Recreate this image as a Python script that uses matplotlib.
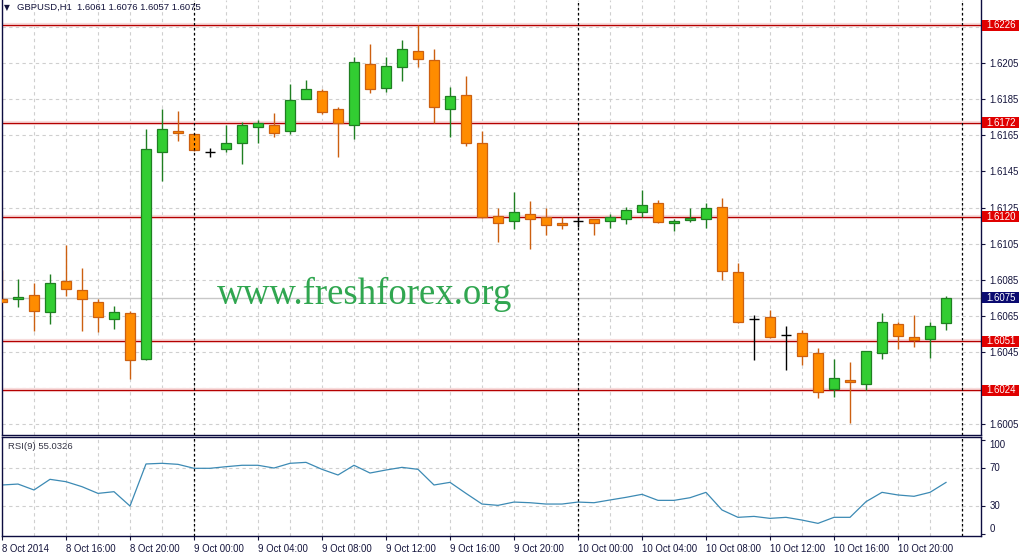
import matplotlib
matplotlib.use("Agg")
import matplotlib.pyplot as plt
import numpy as np
from matplotlib.patches import Rectangle

# GBPUSD H1, 8 Oct 12:00 .. 10 Oct 23:00 (one candle per hour)
opens = [1.60744, 1.60742, 1.60766, 1.60670, 1.60843, 1.60793, 1.60725, 1.60631, 1.60665, 1.60410,
         1.61559, 1.61672, 1.61655, 1.61556, 1.61572, 1.61609, 1.61694, 1.61705, 1.61672, 1.61852,
         1.61895, 1.61793, 1.61705, 1.62043, 1.61913, 1.62026, 1.62114, 1.62065, 1.61793, 1.61871,
         1.61605, 1.61203, 1.61174, 1.61214, 1.61196, 1.61164, 1.61174, 1.61185, 1.61174, 1.61185,
         1.61223, 1.61273, 1.61163, 1.61183, 1.61185, 1.61251, 1.60893, 1.60631, 1.60642, 1.60543,
         1.60554, 1.60443, 1.60244, 1.60295, 1.60272, 1.60443, 1.60604, 1.60532, 1.60521, 1.60610]
highs = [1.60904, 1.60854, 1.60831, 1.60880, 1.61041, 1.60915, 1.60744, 1.60705, 1.60679, 1.61683,
         1.61797, 1.61784, 1.61660, 1.61578, 1.61707, 1.61723, 1.61734, 1.61771, 1.61933, 1.61956,
         1.61904, 1.61805, 1.62085, 1.62157, 1.62081, 1.62177, 1.62260, 1.62126, 1.61915, 1.61978,
         1.61673, 1.61246, 1.61336, 1.61286, 1.61246, 1.61199, 1.61199, 1.61188, 1.61212, 1.61251,
         1.61347, 1.61292, 1.61185, 1.61247, 1.61273, 1.61301, 1.60941, 1.60655, 1.60683, 1.60594,
         1.60572, 1.60471, 1.60410, 1.60395, 1.60456, 1.60665, 1.60618, 1.60655, 1.60615, 1.60760]
lows = [1.60725, 1.60701, 1.60568, 1.60604, 1.60762, 1.60568, 1.60563, 1.60578, 1.60301, 1.60405,
        1.61398, 1.61620, 1.61565, 1.61531, 1.61559, 1.61492, 1.61609, 1.61642, 1.61655, 1.61848,
        1.61766, 1.61531, 1.61631, 1.61882, 1.61891, 1.61952, 1.62029, 1.61716, 1.61642, 1.61592,
        1.61193, 1.61061, 1.61131, 1.61022, 1.61098, 1.61133, 1.61144, 1.61098, 1.61138, 1.61160,
        1.61199, 1.61163, 1.61122, 1.61172, 1.61138, 1.60849, 1.60613, 1.60406, 1.60530, 1.60351,
        1.60378, 1.60197, 1.60200, 1.60060, 1.60240, 1.60410, 1.60467, 1.60480, 1.60419, 1.60570]
closes = [1.60729, 1.60755, 1.60679, 1.60831, 1.60801, 1.60742, 1.60642, 1.60670, 1.60404, 1.61572,
          1.61683, 1.61661, 1.61570, 1.61556, 1.61605, 1.61705, 1.61716, 1.61661, 1.61845, 1.61904,
          1.61780, 1.61716, 1.62054, 1.61904, 1.62031, 1.62126, 1.62074, 1.61805, 1.61865, 1.61609,
          1.61196, 1.61163, 1.61223, 1.61185, 1.61152, 1.61152, 1.61174, 1.61163, 1.61196, 1.61235,
          1.61264, 1.61172, 1.61175, 1.61194, 1.61246, 1.60900, 1.60618, 1.60631, 1.60532, 1.60543,
          1.60430, 1.60231, 1.60305, 1.60283, 1.60454, 1.60615, 1.60541, 1.60515, 1.60594, 1.60750]
rsi = [52.3, 53.3, 47.0, 58.3, 55.8, 50.5, 43.4, 45.2, 30.0, 74.6,
       75.3, 74.2, 70.0, 70.0, 71.7, 73.2, 73.2, 70.3, 75.3, 76.3,
       68.9, 62.9, 73.2, 65.0, 68.2, 71.0, 68.9, 52.3, 55.1, 43.4,
       32.1, 30.7, 34.2, 33.5, 32.1, 32.1, 34.2, 33.5, 36.4, 39.2,
       42.4, 36.0, 36.0, 38.8, 44.5, 25.8, 18.0, 19.0, 16.9, 18.0,
       15.1, 11.6, 18.0, 18.0, 34.6, 44.5, 41.7, 40.3, 44.5, 55.03]

levels = [1.6226, 1.6172, 1.6120, 1.6051, 1.6024]
bid = 1.6075
price_ticks = [1.6005, 1.6025, 1.6045, 1.6065, 1.6085, 1.6105, 1.6125,
               1.6145, 1.6165, 1.6185, 1.6205, 1.6225]
# labels hidden under the level boxes (1.6025, 1.6225) are left blank
price_labels = ["1.6005", "", "1.6045", "1.6065", "1.6085", "1.6105", "1.6125",
                "1.6145", "1.6165", "1.6185", "1.6205", ""]
time_labels = ["8 Oct 2014", "8 Oct 16:00", "8 Oct 20:00", "9 Oct 00:00", "9 Oct 04:00",
               "9 Oct 08:00", "9 Oct 12:00", "9 Oct 16:00", "9 Oct 20:00", "10 Oct 00:00",
               "10 Oct 04:00", "10 Oct 08:00", "10 Oct 12:00", "10 Oct 16:00", "10 Oct 20:00"]
day_breaks = [12, 36, 60]   # candle index of 9 Oct, 10 Oct, 11 Oct 00:00

W, H = 1023, 557
NAVY = "#14143c"
GRID = "#cfcfcf"
plt.rcParams["font.family"] = ["Liberation Sans", "DejaVu Sans"]

fig = plt.figure(figsize=(W / 100, H / 100), dpi=100)


def rect(x0, y0, x1, y1):
    return [x0 / W, 1 - y1 / H, (x1 - x0) / W, (y1 - y0) / H]


ax = fig.add_axes(rect(1.5, 0, 981, 435))
ax2 = fig.add_axes(rect(1.5, 437, 981, 536))
xs = np.arange(len(opens))
xlim = ((1.5 - 2) / 16, (981 - 2) / 16)

# ── price pane ──
ax.set_xlim(*xlim)
ax.set_ylim(1.59991, 1.623984)
for t in price_ticks:
    ax.axhline(t, color=GRID, lw=0.8, ls=(0, (3, 3)), zorder=0)
for i in range(0, 62, 2):
    ax.axvline(i, color=GRID, lw=0.8, ls=(0, (3, 3)), zorder=0)
ax.axhline(bid, color="#c8c8c8", lw=1, zorder=0.5)
for lv in levels:
    ax.axhline(lv, color="#f8dcdc", lw=3, zorder=0.6)
    ax.axhline(lv, color="#b40000", lw=0.9, zorder=0.7)

bw = 0.62
for i, o, h, l, c in zip(xs, opens, highs, lows, closes):
    if c > o:
        fill, edge = "#32cd32", "#1f7f22"
    elif c < o:
        fill, edge = "#ff8c00", "#cc6010"
    else:
        fill, edge = None, "black"
    ax.vlines(i, l, h, color=edge, lw=1, zorder=2)
    if fill is None:
        ax.hlines(o, i - bw / 2, i + bw / 2, color=edge, lw=1, zorder=3)
    else:
        ax.bar(i, abs(c - o), bw, bottom=min(o, c), color=fill, edgecolor=edge,
               linewidth=0.9, zorder=3)

ax.yaxis.tick_right()
ax.set_yticks(price_ticks, price_labels)
ax.tick_params(axis="y", length=3, width=0.8, pad=3, labelsize=6.9,
               colors=NAVY, direction="out")
ax.set_xticks([])

yt = ax.get_yaxis_transform()
box_w = 36.6 / 979.5
box_x = 1.3 / 979.5 + 1
box_h = 11 / 18070
for lv, col in [(l, "#e00000") for l in levels] + [(bid, "#0a0a70")]:
    ax.add_patch(Rectangle((box_x, lv - box_h / 2), box_w, box_h, transform=yt,
                           facecolor=col, edgecolor="none", clip_on=False, zorder=5))
    ax.text(box_x + 4.5 / 979.5, lv, f"{lv:.4f}", transform=yt, ha="left", va="center",
            color="white", fontsize=6.9, zorder=6, clip_on=False)

fig.text(217 / W, 1 - 304.3 / H, "www.freshforex.org", fontsize=26.5, color="#30a650",
         family="Liberation Serif", ha="left", va="baseline")
fig.text(4 / W, 1 - 7.5 / H, "▼", fontsize=5.5, color=NAVY, family="DejaVu Sans",
         ha="left", va="center")
fig.text(17 / W, 1 - 7.5 / H, "GBPUSD,H1  1.6061 1.6076 1.6057 1.6075", fontsize=6.8,
         color=NAVY, ha="left", va="center")

# ── RSI pane ──
ax2.set_xlim(*xlim)
ax2.set_ylim(-1.8, 103.2)
for t in [30, 70]:
    ax2.axhline(t, color=GRID, lw=0.8, ls=(0, (3, 3)), zorder=0)
for i in range(0, 62, 2):
    ax2.axvline(i, color=GRID, lw=0.8, ls=(0, (3, 3)), zorder=0)
ax2.plot(xs, rsi, color="#3c8ab4", lw=0.9, zorder=2)
ax2.text(6 / 979.5, 1 - 9.5 / 99, "RSI(9) 55.0326", transform=ax2.transAxes, fontsize=6.8,
         color="#333344", ha="left", va="center")
ax2.yaxis.tick_right()
ax2.set_yticks([0, 30, 70, 100], ["0", "30", "70", "100"])
ax2.tick_params(axis="y", length=3, width=0.8, pad=3, labelsize=6.9, colors=NAVY)
for lab, va in zip(ax2.get_yticklabels(), ["bottom", "center", "center", "top"]):
    lab.set_verticalalignment(va)
ax2.set_xticks(xs[::4][:len(time_labels)], time_labels)
ax2.tick_params(axis="x", length=3, width=0.8, pad=2.5, labelsize=6.9, colors=NAVY)
for lab in ax2.get_xticklabels():
    lab.set_horizontalalignment("left")

for a in (ax, ax2):
    for b in day_breaks:
        a.axvline(b, color="black", lw=0.9, ls=(0, (2, 2)), zorder=4)
    for s in a.spines.values():
        s.set_color("#0c0c40")
        s.set_linewidth(1)
    a.spines["top"].set_visible(a is ax2)

fig.savefig("out.png", dpi=100, facecolor="white")
